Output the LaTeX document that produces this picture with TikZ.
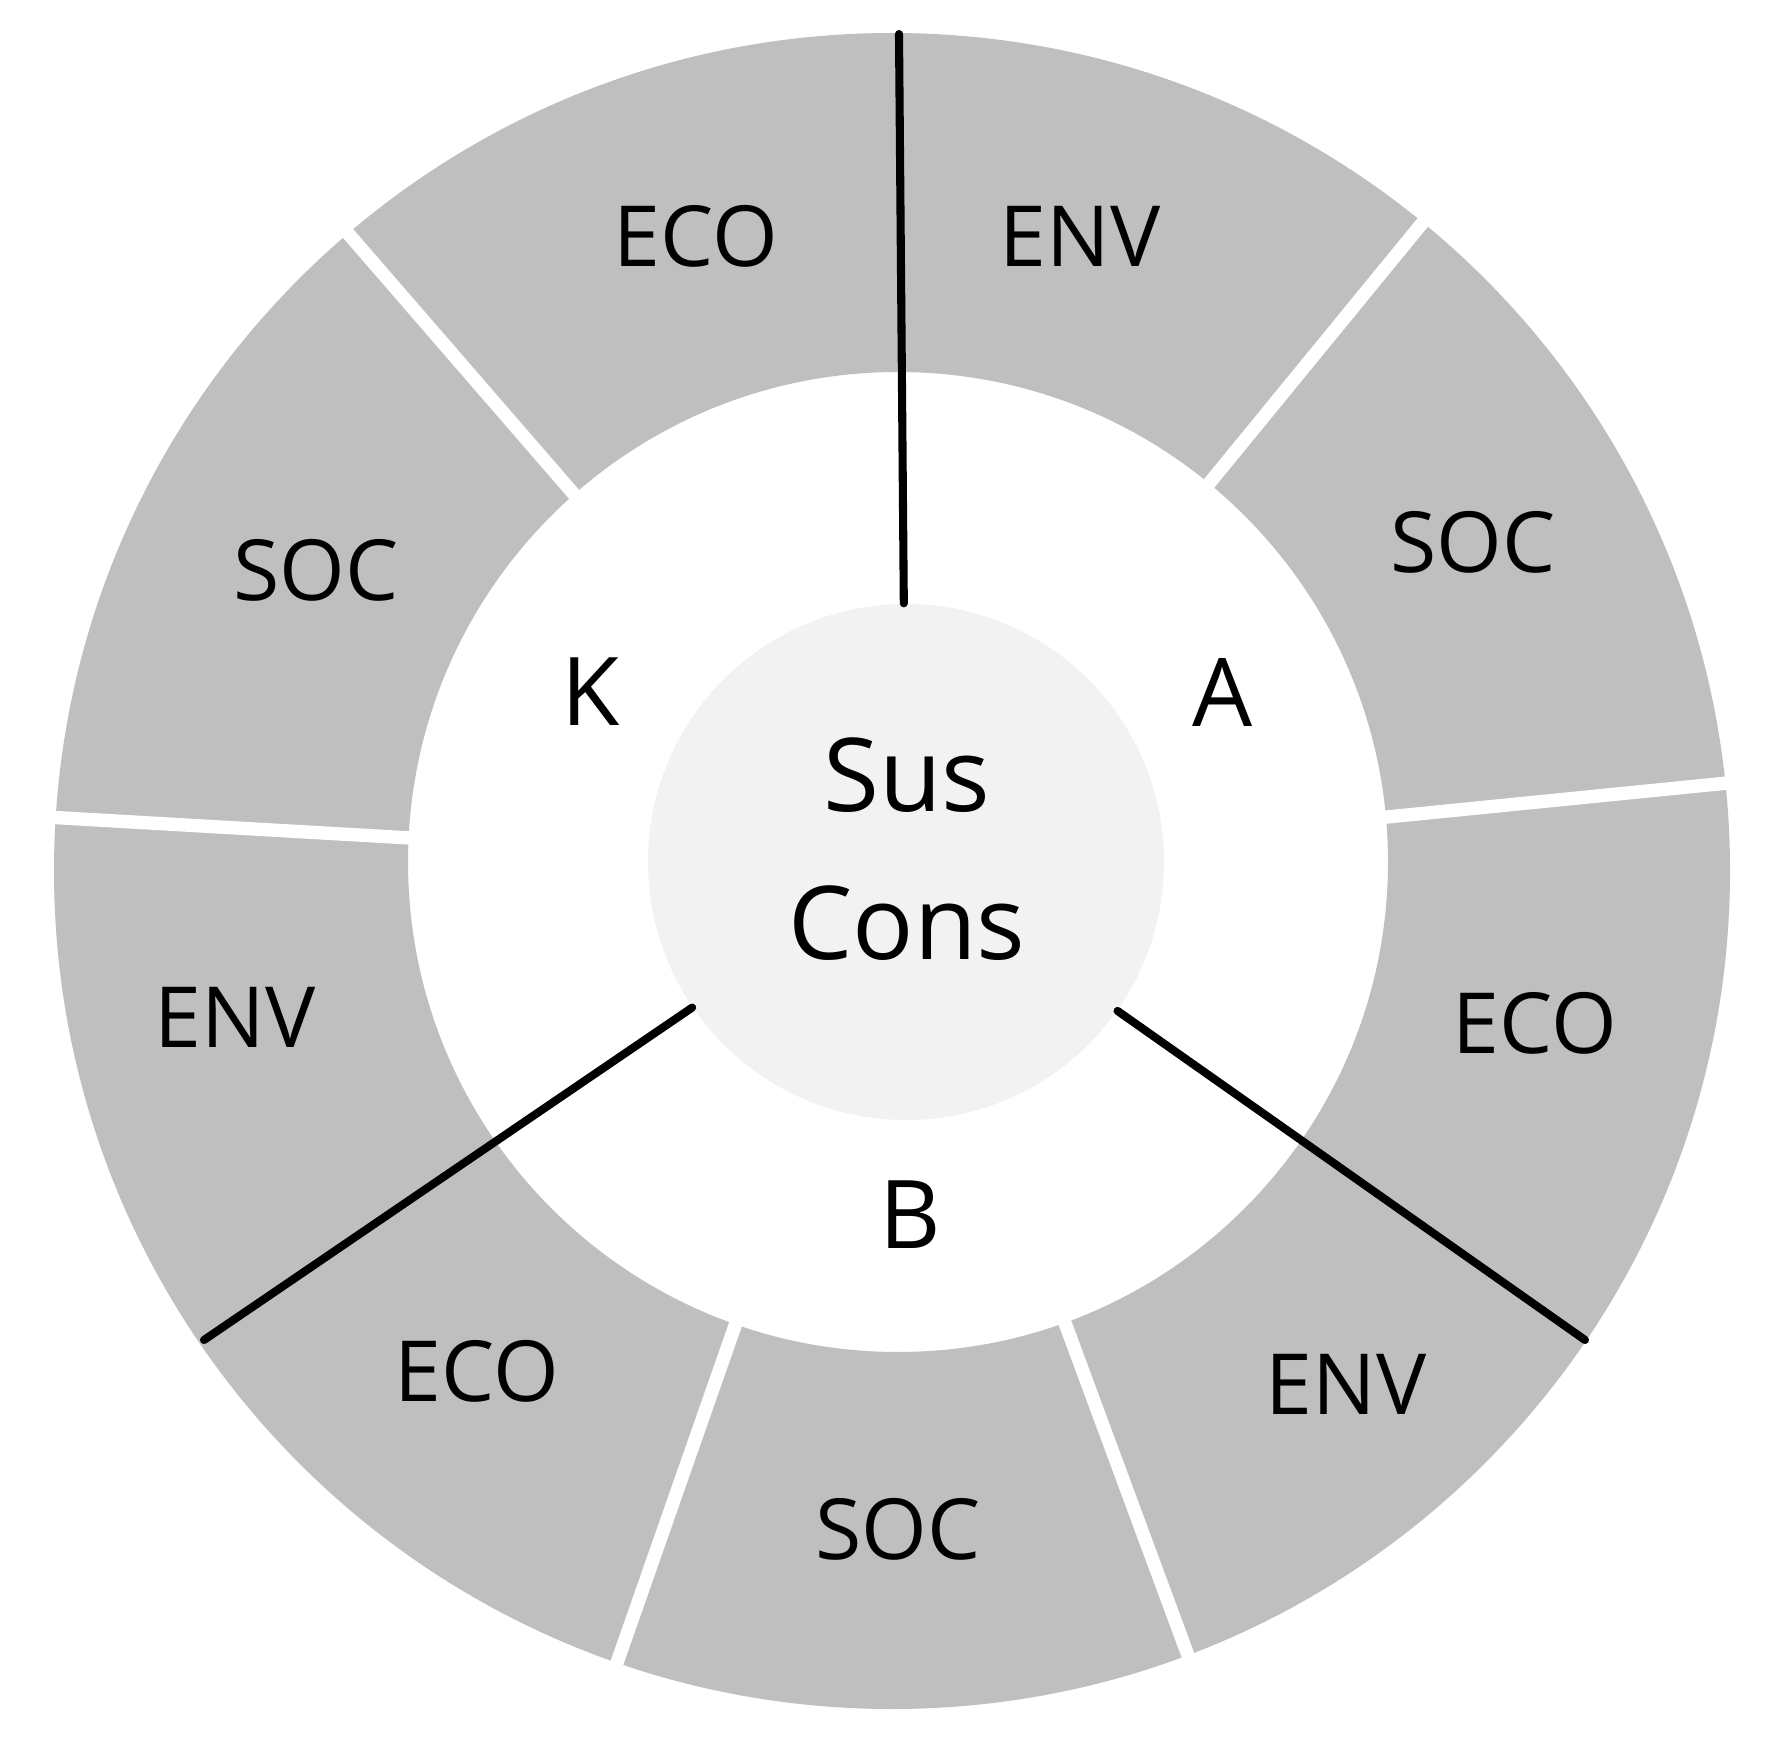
\documentclass[tikz,border=0pt]{standalone}
\usepackage{fontspec}
\setmainfont{Open Sans}
\usepackage{xcolor}
\usetikzlibrary{calc}

\definecolor{ringgray}{HTML}{BFBFBF}
\definecolor{hubgray}{HTML}{F2F2F2}

\begin{document}
\begin{tikzpicture}[
		seg/.style={font=\fontsize{24}{28}\selectfont},
		part/.style={font=\fontsize{27}{32}\selectfont},
		gap/.style={white, line width=3.8pt},
		divider/.style={black, line width=2.3pt, line cap=round}]
		\useasboundingbox[fill=white] (0,0) rectangle (17.66,-17.41);

		% Ring
		\fill[ringgray, even odd rule] (8.92,-8.71) circle (8.38) (8.98,-8.62) circle (4.90);
		\coordinate (ring) at (8.96,-8.66);

		% Gaps between segments
		\draw[gap] (ring) ++(50.7:4.4) -- ++(50.7:4.4);
		\draw[gap] (ring) ++(5.7:4.4) -- ++(5.7:4.4);
		\draw[gap] (ring) ++(-69.7:4.4) -- ++(-69.7:4.4);
		\draw[gap] (ring) ++(-109.3:4.4) -- ++(-109.3:4.4);
		\draw[gap] (ring) ++(176.7:4.4) -- ++(176.7:4.4);
		\draw[gap] (ring) ++(130.9:4.4) -- ++(130.9:4.4);

		% Hub
		\node[circle, fill=hubgray, minimum size=5.16cm, inner sep=0pt] (hub) at (9.06,-8.62) {};
		\node[font=\fontsize{29}{42}\selectfont, align=center] (sus) at (9.07,-8.49) {Sus\\Cons};

		% Dividers
		\coordinate (topend) at (8.99,-0.34);
		\coordinate (rightend) at (15.85,-13.40);
		\coordinate (leftend) at (2.04,-13.40);
		\draw[divider] (hub) -- (topend);
		\draw[divider] (hub) -- (rightend);
		\draw[divider] (hub) -- (leftend);

		% Parts
		\node[part] (K) at (5.91,-6.92) {K};
		\node[part] (A) at (12.23,-6.92) {A};
		\node[part] (B) at (9.10,-12.15) {B};

		% Segment labels
		\node[seg] (eco1) at (6.96,-2.36) {ECO};
		\node[seg] (env1) at (10.80,-2.36) {ENV};
		\node[seg] (soc1) at (14.73,-5.42) {SOC};
		\node[seg] (eco2) at (15.35,-10.23) {ECO};
		\node[seg] (env2) at (13.46,-13.84) {ENV};
		\node[seg] (soc2) at (8.98,-15.29) {SOC};
		\node[seg] (eco3) at (4.77,-13.71) {ECO};
		\node[seg] (env3) at (2.35,-10.17) {ENV};
		\node[seg] (soc3) at (3.16,-5.70) {SOC};
	\end{tikzpicture}
\end{document}
